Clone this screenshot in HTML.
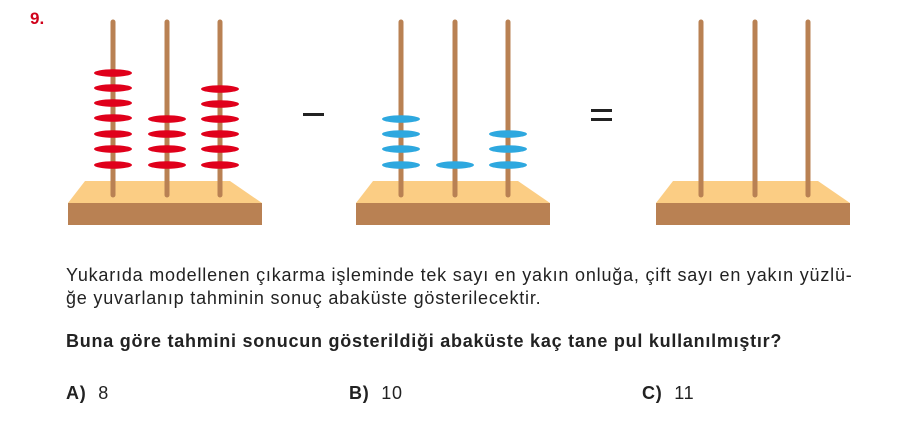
<!DOCTYPE html>
<html><head><meta charset="utf-8"><style>
body{margin:0;width:914px;height:438px;background:#fff;font-family:"Liberation Sans",Arial,sans-serif;position:relative;overflow:hidden}
.t{position:absolute;font-size:18px;letter-spacing:0.8px;color:#222;white-space:nowrap}
</style></head><body>
<svg width="914" height="438" style="position:absolute;left:0;top:0">
<defs>
<g id="base">
<polygon points="85,181 230,181 262,203 68,203" fill="#fbcd84"/>
<rect x="68" y="203" width="194" height="22" fill="#b98153"/>
</g>
<g id="rods" stroke="#b98153" stroke-width="5" stroke-linecap="round">
<line x1="113" y1="22" x2="113" y2="195"/>
<line x1="167" y1="22" x2="167" y2="195"/>
<line x1="220" y1="22" x2="220" y2="195"/>
</g>
</defs>
<use href="#base"/><use href="#rods"/>
<g fill="#e0001b">
<ellipse cx="113" cy="73" rx="19" ry="3.8"/><ellipse cx="113" cy="88" rx="19" ry="3.8"/><ellipse cx="113" cy="103" rx="19" ry="3.8"/><ellipse cx="113" cy="118" rx="19" ry="3.8"/><ellipse cx="113" cy="134" rx="19" ry="3.8"/><ellipse cx="113" cy="149" rx="19" ry="3.8"/><ellipse cx="113" cy="165" rx="19" ry="3.8"/>
<ellipse cx="167" cy="119" rx="19" ry="3.8"/><ellipse cx="167" cy="134" rx="19" ry="3.8"/><ellipse cx="167" cy="149" rx="19" ry="3.8"/><ellipse cx="167" cy="165" rx="19" ry="3.8"/>
<ellipse cx="220" cy="89" rx="19" ry="3.8"/><ellipse cx="220" cy="104" rx="19" ry="3.8"/><ellipse cx="220" cy="119" rx="19" ry="3.8"/><ellipse cx="220" cy="134" rx="19" ry="3.8"/><ellipse cx="220" cy="149" rx="19" ry="3.8"/><ellipse cx="220" cy="165" rx="19" ry="3.8"/>
</g>
<g transform="translate(288,0)"><use href="#base"/><use href="#rods"/></g>
<g fill="#2ea8df">
<ellipse cx="401" cy="119" rx="19" ry="3.8"/><ellipse cx="401" cy="134" rx="19" ry="3.8"/><ellipse cx="401" cy="149" rx="19" ry="3.8"/><ellipse cx="401" cy="165" rx="19" ry="3.8"/>
<ellipse cx="455" cy="165" rx="19" ry="3.8"/>
<ellipse cx="508" cy="134" rx="19" ry="3.8"/><ellipse cx="508" cy="149" rx="19" ry="3.8"/><ellipse cx="508" cy="165" rx="19" ry="3.8"/>
</g>
<g transform="translate(588,0)"><use href="#base"/><use href="#rods"/></g>
<rect x="303" y="113" width="21" height="3" fill="#222"/>
<rect x="591" y="109" width="21" height="3" fill="#222"/><rect x="591" y="118" width="21" height="3" fill="#222"/>
</svg>
<div class="t" style="left:30px;top:9px;color:#d0021b;font-weight:bold;font-size:17px;letter-spacing:0">9.</div>
<div class="t" style="left:66px;top:265px">Yukarıda modellenen çıkarma işleminde tek sayı en yakın onluğa, çift sayı en yakın yüzlü-</div>
<div class="t" style="left:66px;top:288px">ğe yuvarlanıp tahminin sonuç abaküste gösterilecektir.</div>
<div class="t" style="left:66px;top:331px;font-weight:bold;letter-spacing:0.75px">Buna göre tahmini sonucun gösterildiği abaküste kaç tane pul kullanılmıştır?</div>
<div class="t" style="left:66px;top:383px"><b>A)</b>&nbsp; 8</div>
<div class="t" style="left:349px;top:383px"><b>B)</b>&nbsp; 10</div>
<div class="t" style="left:642px;top:383px"><b>C)</b>&nbsp; 11</div>
</body></html>
